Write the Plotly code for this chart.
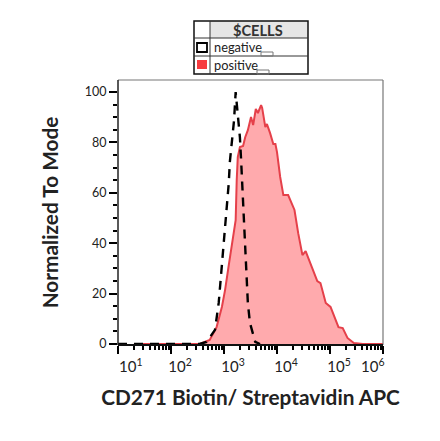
import plotly.graph_objects as go

# histogram values, x as log10 of the intensity
positive_log = [1.3, 2.54, 2.73, 2.86, 2.96, 3.02, 3.09, 3.17, 3.22, 3.24, 3.26, 3.30, 3.36,
                3.40, 3.45, 3.51, 3.55, 3.60, 3.64, 3.70, 3.72, 3.78, 3.81, 3.87, 3.93,
                3.97, 4.00, 4.06, 4.12, 4.21, 4.29, 4.33, 4.40, 4.48, 4.54, 4.59, 4.69,
                4.76, 4.82, 4.92, 5.01, 5.16, 5.24, 5.33, 5.45, 5.62, 6.0]
positive_vals = [0, 0, 1.6, 6.7, 14.7, 21.4, 31.3, 41.3, 49.2, 65.1, 74.2, 78.2, 78.6,
                 82.1, 84.9, 90.1, 86.9, 93.3, 91.7, 94.8, 93.7, 86.1, 87.3, 83.7, 79.4,
                 79.4, 76.2, 66.3, 59.1, 59.1, 55.6, 53.2, 44.0, 35.3, 36.9, 34.1, 28.2,
                 25.0, 24.2, 16.3, 14.7, 6.7, 6.3, 2.4, 0.4, 0, 0]
negative_log = [1.0, 2.54, 2.67, 2.83, 2.90, 2.96, 3.03, 3.07, 3.09, 3.11, 3.15, 3.19, 3.22,
                3.26, 3.30, 3.32, 3.34, 3.36, 3.38, 3.41, 3.45, 3.49, 3.59, 3.68]
negative_vals = [0, 0, 0.8, 5.6, 16.3, 31.3, 49.2, 56.0, 63.9, 72.2, 80.2, 88.9, 100,
                 91.7, 82.1, 74.2, 65.1, 56.0, 49.2, 29.4, 16.3, 8.3, 0.8, 0]

NB = "&nbsp;"
x_ticks = [10, 100, 1000, 10000, 100000, 1000000]
# the outer labels sit further from their ticks than the others, padded to fit
x_labels = [NB * 2 + "10<sup>1</sup>", "10<sup>2</sup>", "10<sup>3</sup>", "10<sup>4</sup>",
            "10<sup>5</sup>", "10<sup>6</sup>" + NB * 10]
x_minor = [m * 10 ** e for e in range(1, 6) for m in range(2, 10)]
y_ticks = [0, 20, 40, 60, 80, 100]

RED = "#e5404a"
FILL = "#ffaaad"
TEXT = "#222222"

# plot area in window pixels, the page body adds an 8px margin
BODY = 8
LEFT, RIGHT, TOP, BOTTOM = 118, 383, 80, 345

fig = go.Figure()
fig.add_trace(go.Scatter(
    x=[10 ** v for v in positive_log], y=positive_vals, mode="lines",
    line=dict(color=RED, width=2), fill="tozeroy", fillcolor=FILL))
fig.add_trace(go.Scatter(
    x=[10 ** v for v in negative_log], y=negative_vals, mode="lines",
    line=dict(color="black", width=2.4, dash="9px,7px")))

fig.update_layout(
    width=440 - BODY, height=441 - BODY, showlegend=False,
    margin=dict(l=LEFT - BODY, r=440 - RIGHT, t=TOP - BODY, b=441 - BOTTOM, pad=0),
    paper_bgcolor="white", plot_bgcolor="white",
    font=dict(family="Lato", color=TEXT))

fig.update_xaxes(
    type="log", range=[1, 6], showgrid=False, zeroline=False, automargin=False,
    tickmode="array", tickvals=x_ticks, ticktext=x_labels, ticklabelshift=9,
    ticks="outside", ticklen=8, tickwidth=2, tickcolor="black",
    tickfont=dict(size=15), showline=False,
    minor=dict(tickmode="array", tickvals=x_minor, ticks="outside",
               ticklen=4, tickwidth=1.5, tickcolor="black"),
    title=dict(text="<b>CD271 Biotin/ Streptavidin APC</b>",
               font=dict(size=20.8, color=TEXT), standoff=16))
fig.update_yaxes(
    range=[-0.4, 104.8], showgrid=False, zeroline=False, automargin=False,
    tickmode="array", tickvals=y_ticks,
    ticks="outside", ticklen=8, tickwidth=2, tickcolor="black",
    tickfont=dict(size=12.5), showline=False,
    minor=dict(tickmode="array", tickvals=[v for v in range(5, 100, 5) if v % 20],
               ticks="outside", ticklen=4, tickwidth=1.5, tickcolor="black"),
    title=dict(text="<b>Normalized To Mode</b>",
               font=dict(size=20.8, color=TEXT), standoff=20))


def px_x(v):
    return (v - LEFT) / (RIGHT - LEFT)


def px_y(v):
    return (BOTTOM - v) / (BOTTOM - TOP)


def box(x0, y0, x1, y1, **kw):
    fig.add_shape(type="rect", xref="paper", yref="paper",
                  x0=px_x(x0), x1=px_x(x1), y0=px_y(y0), y1=px_y(y1), **kw)


def rule(x0, y0, x1, y1, color, width):
    fig.add_shape(type="line", xref="paper", yref="paper",
                  x0=px_x(x0), x1=px_x(x1), y0=px_y(y0), y1=px_y(y1),
                  line=dict(color=color, width=width))


def label(text, x, y, anchor, size, color):
    fig.add_annotation(text=text, xref="paper", yref="paper", x=px_x(x), y=px_y(y),
                       xanchor=anchor, yanchor="middle", showarrow=False,
                       font=dict(size=size, color=color))


# frame of the plot: dark on the left and bottom, grey on the other two sides
rule(LEFT, TOP, RIGHT, TOP, "#777777", 1.2)
rule(RIGHT, TOP, RIGHT, BOTTOM, "#777777", 1.2)
rule(LEFT, TOP, LEFT, BOTTOM, "#222222", 1.5)
rule(LEFT, BOTTOM, RIGHT, BOTTOM, "#111111", 2)

# legend table above the plot
box(210, 21, 308, 38, fillcolor="#e6e6e6", line=dict(width=0))
box(194, 21, 308, 74, line=dict(color="#111111", width=1.5))
rule(194, 38, 308, 38, "#333333", 1)
rule(194, 56, 308, 56, "#333333", 1)
rule(210, 21, 210, 74, "#333333", 1)
box(197, 43, 207, 52, fillcolor="white", line=dict(color="black", width=1.8))
box(197, 60, 207, 69, fillcolor="#f73b3f", line=dict(width=0))
box(261, 52, 273, 56, line=dict(color="#777777", width=1))
box(257, 70, 269, 74, line=dict(color="#777777", width=1))

label("<b>$CELLS</b>", 258, 30, "center", 14.6, "#333333")
label("negative", 212, 47, "left", 12.8, TEXT)
label("positive", 212, 65, "left", 12.8, TEXT)

fig.write_html("out.html")
